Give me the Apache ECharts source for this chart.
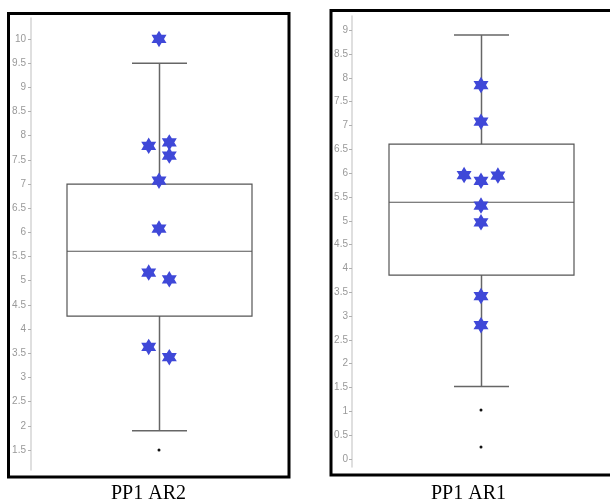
<!DOCTYPE html>
<html><head><meta charset="utf-8">
<script src="https://cdn.jsdelivr.net/npm/echarts@6/dist/echarts.min.js"></script>
<style>html,body{margin:0;padding:0;background:#fff}#c{width:610px;height:504px}</style>
</head><body><div id="c"></div>
<script>
// ---- data ----
const panelNames = ['PP1 AR2', 'PP1 AR1'];
// box summaries: [lower whisker, Q1, median, Q3, upper whisker]
const ar2Box = [1.9, 4.27, 5.61, 7.0, 9.5];
const ar1Box = [1.52, 3.86, 5.39, 6.61, 8.9];
const ar2Outliers = [1.5];
const ar1Outliers = [1.03, 0.25];
const ar2Stars = [10.0, 7.79, 7.86, 7.59, 7.07, 6.08, 5.17, 5.03, 3.63, 3.42];
const ar2Jitter = [0, -1, 1, 1, 0, 0, -1, 1, -1, 1];
const ar1Stars = [7.85, 7.08, 5.96, 5.84, 5.95, 5.32, 4.97, 3.42, 2.81];
const ar1Jitter = [0, 0, -1, 0, 1, 0, 0, 0, 0];
const ar2Ticks = [1.5, 2, 2.5, 3, 3.5, 4, 4.5, 5, 5.5, 6, 6.5, 7, 7.5, 8, 8.5, 9, 9.5, 10];
const ar1Ticks = [0, 0.5, 1, 1.5, 2, 2.5, 3, 3.5, 4, 4.5, 5, 5.5, 6, 6.5, 7, 7.5, 8, 8.5, 9];

// ---- styles ----
const STAR = 'path://M10 0 L12.887 5 L18.66 5 L15.774 10 L18.66 15 L12.887 15 L10 20 L7.113 15 L1.34 15 L4.226 10 L1.34 5 L7.113 5 Z';
const STAR_COLOR = '#3f48d8';
const BOX_W = 185, CAP_W = 55;

function boxRender(params, api) {
  const xc = api.value(0);
  const lo = api.coord([xc, api.value(1)]);
  const q1 = api.coord([xc, api.value(2)]);
  const md = api.coord([xc, api.value(3)]);
  const q3 = api.coord([xc, api.value(4)]);
  const hi = api.coord([xc, api.value(5)]);
  const x = Math.round(lo[0]) + 0.5;
  const hw = BOX_W / 2, cw = CAP_W / 2;
  const wStyle = {stroke: '#666', lineWidth: 1.5, fill: null};
  const bStyle = {stroke: '#555', lineWidth: 1.2, fill: 'rgba(0,0,0,0)'};
  return {type: 'group', children: [
    {type: 'line', shape: {x1: x, y1: hi[1], x2: x, y2: q3[1]}, style: wStyle},
    {type: 'line', shape: {x1: x, y1: q1[1], x2: x, y2: lo[1]}, style: wStyle},
    {type: 'line', shape: {x1: x - cw, y1: hi[1], x2: x + cw, y2: hi[1]}, style: wStyle},
    {type: 'line', shape: {x1: x - cw, y1: lo[1], x2: x + cw, y2: lo[1]}, style: wStyle},
    {type: 'rect', shape: {x: x - hw, y: q3[1], width: 2 * hw, height: q1[1] - q3[1]}, style: bStyle},
    {type: 'line', shape: {x1: x - hw, y1: md[1], x2: x + hw, y2: md[1]}, style: bStyle}
  ]};
}

function yAxisFor(gridIndex, min, max, ticks, margin) {
  return {
    type: 'value', gridIndex, min, max, position: 'left',
    splitLine: {show: false},
    axisLine: {show: true, onZero: false, lineStyle: {color: '#d4d4d4', width: 1.5}},
    axisTick: {show: true, length: 3, customValues: ticks, lineStyle: {color: '#b0b0b0'}},
    axisLabel: {customValues: ticks, color: '#999', fontSize: 10, fontFamily: 'Liberation Sans, Arial, sans-serif', margin}
  };
}
function xAxisFor(gridIndex, half) {
  return {type: 'value', gridIndex, min: -half, max: half, show: false};
}

const chart = echarts.init(document.getElementById('c'), null, {renderer: 'canvas'});
chart.setOption({
  animation: false,
  backgroundColor: '#fff',
  grid: [
    {left: 31, top: 18, width: 256, height: 452},
    {left: 352, top: 16, width: 259.4, height: 451}
  ],
  xAxis: [xAxisFor(0, 12.43), xAxisFor(1, 7.63)],
  yAxis: [yAxisFor(0, 1.086, 10.434, ar2Ticks, 5), yAxisFor(1, -0.168, 9.30, ar1Ticks, 4)],
  series: [
    {type: 'custom', xAxisIndex: 0, yAxisIndex: 0, renderItem: boxRender,
     encode: {x: 0, y: [1, 2, 3, 4, 5]}, data: [[0].concat(ar2Box)], z: 1},
    {type: 'custom', xAxisIndex: 1, yAxisIndex: 1, renderItem: boxRender,
     encode: {x: 0, y: [1, 2, 3, 4, 5]}, data: [[0].concat(ar1Box)], z: 1},
    {type: 'scatter', xAxisIndex: 0, yAxisIndex: 0, symbol: 'circle', symbolSize: 3,
     itemStyle: {color: '#111', opacity: 1}, data: ar2Outliers.map(v => [0, v]), z: 2},
    {type: 'scatter', xAxisIndex: 1, yAxisIndex: 1, symbol: 'circle', symbolSize: 3,
     itemStyle: {color: '#111', opacity: 1}, data: ar1Outliers.map(v => [0, v]), z: 2},
    {type: 'scatter', xAxisIndex: 0, yAxisIndex: 0, symbol: STAR, symbolSize: [15, 16.5],
     itemStyle: {color: STAR_COLOR, opacity: 1}, data: ar2Stars.map((v, i) => [ar2Jitter[i], v]), z: 3},
    {type: 'scatter', xAxisIndex: 1, yAxisIndex: 1, symbol: STAR, symbolSize: [15, 16.5],
     itemStyle: {color: STAR_COLOR, opacity: 1}, data: ar1Stars.map((v, i) => [ar1Jitter[i], v]), z: 3}
  ],
  graphic: [
    {type: 'rect', shape: {x: 8.5, y: 13.5, width: 280.5, height: 463.5},
     style: {fill: null, stroke: '#000', lineWidth: 3}, z: 10},
    {type: 'rect', shape: {x: 331, y: 10.5, width: 290, height: 464.5},
     style: {fill: null, stroke: '#000', lineWidth: 3}, z: 10},
    {type: 'text', left: 111, top: 484, style: {text: panelNames[0], font: '20px "Liberation Serif", "Times New Roman", serif', fill: '#000'}},
    {type: 'text', left: 431, top: 484, style: {text: panelNames[1], font: '20px "Liberation Serif", "Times New Roman", serif', fill: '#000'}}
  ]
});
</script></body></html>
